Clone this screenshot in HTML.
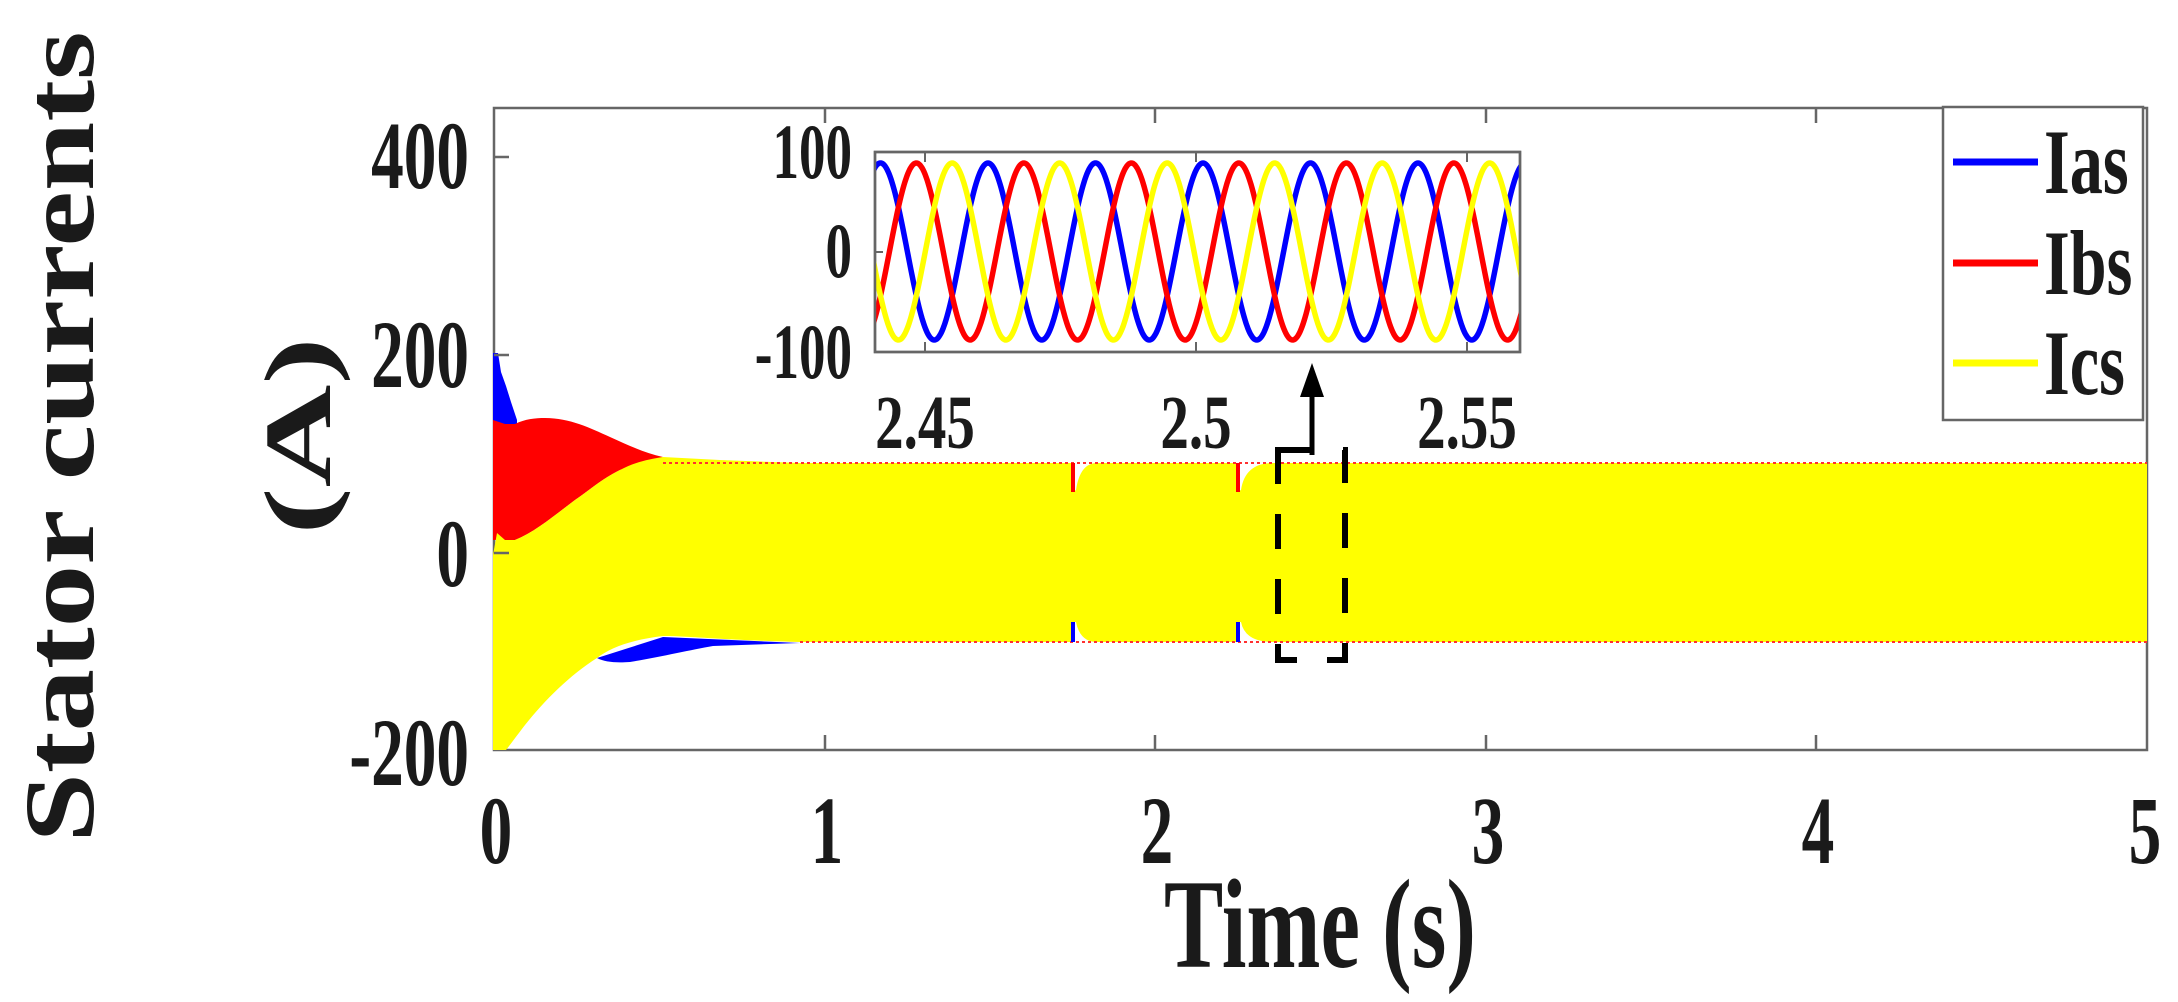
<!DOCTYPE html>
<html><head><meta charset="utf-8"><style>
html,body{margin:0;padding:0;background:#fff;}
svg{display:block;}
text{font-family:"Liberation Serif",serif;font-weight:bold;fill:#1a1a1a;}
</style></head><body>
<svg id="s" width="2178" height="1002" viewBox="0 0 2178 1002" xmlns="http://www.w3.org/2000/svg">
<defs><clipPath id="ic"><rect x="875" y="152" width="645" height="200"/></clipPath></defs>
<rect x="494" y="108" width="1653" height="642" fill="#fff" stroke="#666" stroke-width="2.5"/>
<path fill="#0000ff" d="M493,353 L498,353 L501,372 L506,386 L511,402 L517,420 L517,440 L493,440 Z"/>
<path fill="#ff0000" d="M493,420 L505,424 L515,424 C525,419 535,418 545,418 C570,418 590,428 610,437 C630,446 645,453 663,457 L620,470 C600,480 590,490 575,500 C555,515 535,532 515,540 L505,540 L493,540 Z"/>
<path fill="#0000ff" d="M597,658 C605,662 615,663 630,662 C660,657 690,650 713,646 L800,643 L663,637 Z"/>
<path fill="#ffff00" d="M493,555 L497,533 L505,540 L515,540 C535,532 555,515 575,500 C590,490 600,480 620,470 C635,462 650,459 663,457 L720,460 L800,463 L1072,463 L1072,492 L1076,490 Q1080,463 1097,463 L1237,463 L1237,492 L1241,490 Q1245,463 1273,463 L2147,463 L2147,642 L1273,642 Q1245,642 1241,622 L1237,622 L1237,642 L1097,642 Q1080,642 1076,622 L1072,622 L1072,642 L800,642 C720,640 690,636 663,636 C630,640 610,648 597,658 C570,675 545,700 525,725 C515,738 510,745 506,750 L493,750 Z"/>
<g stroke-width="2" fill="none">
<path stroke="#ff3030" stroke-dasharray="3 3" d="M663,463 L2147,463 M800,642 L2147,642"/>
<path stroke="#ff0000" stroke-width="4" d="M1073,463 L1073,492 M1238,463 L1238,492"/>
<path stroke="#0000ff" stroke-width="4" d="M1073,642 L1073,622 M1238,642 L1238,622"/>
</g>
<g stroke="#666" stroke-width="2.5">
<path d="M494,157 h15 M494,355 h15 M494,553 h15 M825,750 v-15 M1155,750 v-15 M1486,750 v-15 M1816,750 v-15 M825,108 v15 M1155,108 v15 M1486,108 v15 M1816,108 v15"/>
</g>
<rect x="875" y="152" width="645" height="200" fill="#fff" stroke="#666" stroke-width="2.5"/>
<g stroke="#666" stroke-width="2"><path d="M925,352 v-10 M1196,352 v-10 M1467,352 v-10 M925,152 v10 M1196,152 v10 M1467,152 v10 M875,252 h8"/></g>
<g clip-path="url(#ic)" fill="none" stroke-width="5.5">
<path id="pb" stroke="#0000ff"/><path id="pr" stroke="#ff0000"/><path id="py" stroke="#ffff00"/>
</g>
<rect x="875" y="152" width="645" height="200" fill="none" stroke="#666" stroke-width="2.5"/>
<rect x="1278" y="450" width="67" height="210" fill="none" stroke="#000" stroke-width="6" stroke-dasharray="35 30"/>
<path d="M1312,455 L1312,385" stroke="#000" stroke-width="5"/>
<path d="M1312,363 L1300,397 L1324,397 Z" fill="#000"/>
<rect x="1943" y="107" width="200" height="313" fill="#fff" stroke="#666" stroke-width="2.5"/>
<g stroke-width="7"><path d="M1953,162 h85" stroke="#0000ff"/><path d="M1953,263 h85" stroke="#ff0000"/><path d="M1953,363 h85" stroke="#ffff00"/></g>
<g font-size="92">
<text transform="translate(2044,193) scale(0.72,1)">Ias</text>
<text transform="translate(2044,294) scale(0.72,1)">Ibs</text>
<text transform="translate(2044,394) scale(0.72,1)">Ics</text>
</g>
<g font-size="96" text-anchor="end">
<text transform="translate(469,188) scale(0.68,1)">400</text>
<text transform="translate(469,387) scale(0.68,1)">200</text>
<text transform="translate(469,586) scale(0.68,1)">0</text>
<text transform="translate(469,785) scale(0.68,1)">-200</text>
</g>
<g font-size="96" text-anchor="middle">
<text transform="translate(496,863) scale(0.68,1)">0</text>
<text transform="translate(827,863) scale(0.68,1)">1</text>
<text transform="translate(1157,863) scale(0.68,1)">2</text>
<text transform="translate(1488,863) scale(0.68,1)">3</text>
<text transform="translate(1818,863) scale(0.68,1)">4</text>
<text transform="translate(2145,863) scale(0.68,1)">5</text>
</g>
<g font-size="78" text-anchor="end">
<text transform="translate(852,178) scale(0.68,1)">100</text>
<text transform="translate(852,277) scale(0.68,1)">0</text>
<text transform="translate(852,378) scale(0.68,1)">-100</text>
</g>
<g font-size="76" text-anchor="middle">
<text transform="translate(925,448) scale(0.75,1)">2.45</text>
<text transform="translate(1196,448) scale(0.75,1)">2.5</text>
<text transform="translate(1467,448) scale(0.75,1)">2.55</text>
</g>
<text font-size="127" text-anchor="middle" transform="translate(1320,967) scale(0.7,1)">Time (s)</text>
<text font-size="100" text-anchor="middle" transform="translate(93,437) rotate(-90) scale(1.25,1)">Stator currents</text>
<text font-size="95" text-anchor="middle" transform="translate(330,436) rotate(-90) scale(1.5,1)">(A)</text>
</svg>
<script>
(function(){
  var P=107.5,c=251.5,A=88.5;
  function mk(off){
    var d="";
    for(var x=870;x<=1525;x+=1){
      var y=c-A*Math.cos(2*Math.PI*(x-1203-off)/P);
      d+=(x===870?"M":"L")+x+","+y.toFixed(1);
    }
    return d;
  }
  document.getElementById("pb").setAttribute("d",mk(0));
  document.getElementById("pr").setAttribute("d",mk(P/3));
  document.getElementById("py").setAttribute("d",mk(2*P/3));
})();
</script>
</body></html>
